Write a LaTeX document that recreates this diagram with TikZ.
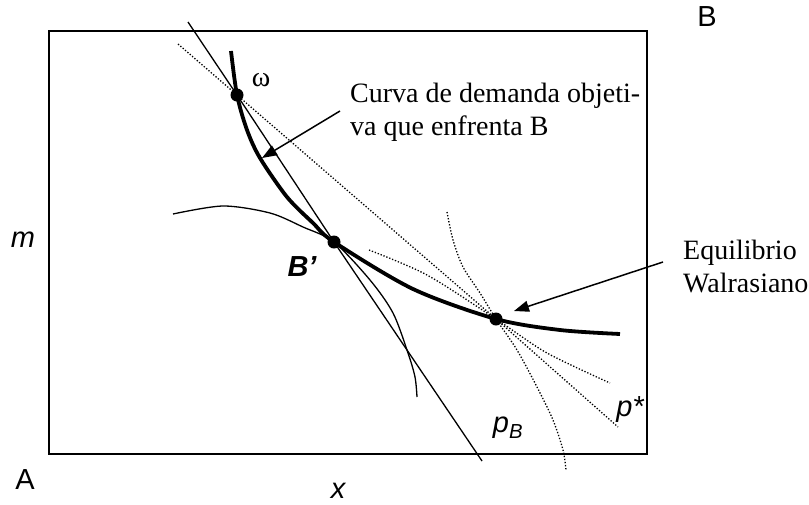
\documentclass[tikz,border=0pt]{standalone}
\usepackage{fontspec}
\setmainfont{Liberation Serif}
\setsansfont{Liberation Sans}
\usepackage{amsmath}
\usetikzlibrary{arrows.meta}

\tikzset{
  frame/.style={line width=1.8pt},
  thincurve/.style={line width=1.3pt},
  demand/.style={line width=3.8pt},
  dots/.style={line width=1.3pt, dash pattern=on 1.3pt off 1.8pt},
  callout/.style={line width=1.5pt, -{Triangle[length=15pt,width=11pt]}},
  sflabel/.style={inner sep=0pt, font=\fontsize{29}{33}\selectfont\sffamily},
  rmlabel/.style={inner sep=0pt, anchor=west, align=left, font=\fontsize{28}{33}\selectfont}
}

\begin{document}
\begin{tikzpicture}[x=1pt,y=-1pt]
\useasboundingbox (0,0) rectangle (809,504);

\coordinate (w) at (237,95);
\coordinate (bp) at (334,242);
\coordinate (we) at (496,319);

\draw[frame] (49,31) rectangle (647,454);

\draw[thincurve] (188,22) -- (w) -- (bp) -- (482,461);
\draw[dots] (178,44) -- (w) -- (we) -- (618,427);

\draw[thincurve] plot[smooth] coordinates {(173,214) (223,206) (270,213) (303,227) (bp) (370,280) (393,313) (408,353) (415,377) (417,397)};

\draw[dots] plot[smooth] coordinates {(369,250) (427,275) (we) (547,353) (610,383)};
\draw[dots] plot[smooth] coordinates {(447,212) (453,240) (463,267) (480,293) (we) (517,350) (537,387) (553,420) (563,450) (566,470)};

\draw[demand] plot[smooth] coordinates {(231,51) (w) (247,130) (260,158) (287,197) (313,223) (bp) (413,289) (we) (560,330) (620,334)};

\foreach \p in {w,bp,we}
  \fill (\p) circle (6.5);

\node[rmlabel] (curva) at (350,112) {Curva de demanda objeti-\\va que enfrenta B};
\node[rmlabel] (walras) at (683,266) {Equilibrio\\Walrasiano};
\node[inner sep=0pt, font=\fontsize{28}{33}\selectfont] (omega) at (261,80) {ω};

\coordinate (c1) at (340,111);
\coordinate (t1) at (262,158);
\coordinate (c2) at (663,262);
\coordinate (t2) at (514,311);
\draw[callout] (c1) -- (t1);
\draw[callout] (c2) -- (t2);

\node[sflabel] (lB) at (707,17) {B};
\node[sflabel] (lA) at (25,480) {A};
\node[sflabel] (lx) at (338,491) {\itshape x};
\node[sflabel] (lm) at (23,240) {\itshape m};
\node[sflabel] (lbp) at (302,267) {\bfseries\itshape B’};
\node[sflabel] (lpb) at (508,428) {\itshape p\textsubscript{B}};
\node[sflabel] (lps) at (630,410) {\itshape p*};
\end{tikzpicture}
\end{document}
